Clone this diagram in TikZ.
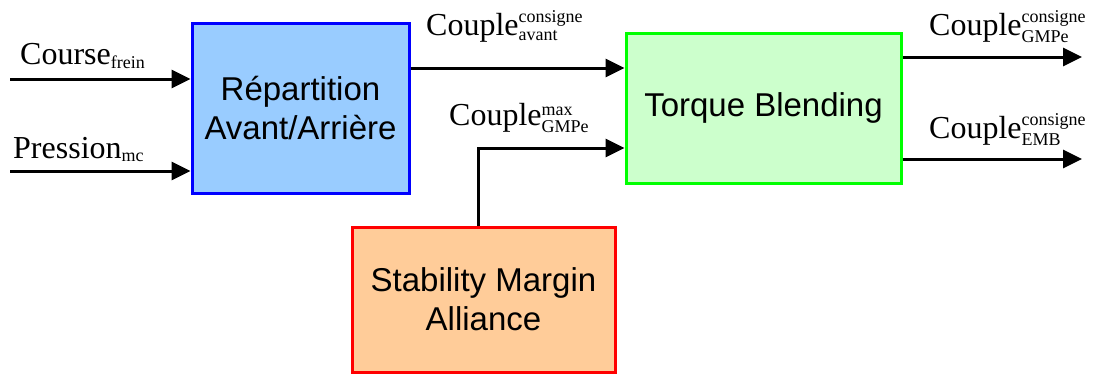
\documentclass[tikz,border=0pt]{standalone}
\usepackage{amsmath}
\usepackage{fontspec}
\setmainfont{Liberation Serif}
\setsansfont{Liberation Sans}
\usepackage{tikz}
\usetikzlibrary{arrows.meta, positioning}
\DeclareMathSizes{32}{32}{18}{14}
\definecolor{RepFill}{RGB}{153, 204, 255}
\definecolor{RepEdge}{RGB}{0, 0, 255}
\definecolor{BlendFill}{RGB}{204, 255, 204}
\definecolor{BlendEdge}{RGB}{0, 255, 0}
\definecolor{StabFill}{RGB}{255, 204, 153}
\definecolor{StabEdge}{RGB}{255, 0, 0}
\newcommand{\idx}[1]{\text{\rmfamily #1}}

\begin{document}
\begin{tikzpicture}[x=1pt, y=-1pt,
    blockbox/.style={draw, line width=3pt, align=center,
      font=\sffamily\fontsize{33}{39}\selectfont},
    sig/.style={-{Triangle[length=19pt, width=18pt]}, line width=3pt},
    sigtext/.style={anchor=base west, inner sep=0pt,
      font=\rmfamily\fontsize{32}{38}\selectfont}]
  \useasboundingbox (0,0) rectangle (1093,376);

  % blocks
  \node[blockbox, draw=RepEdge, fill=RepFill, minimum width=217pt, minimum height=170pt]
    (rep) at (300.5,108) {Répartition\\Avant/Arrière};
  \node[blockbox, draw=BlendEdge, fill=BlendFill, minimum width=275pt, minimum height=150pt]
    (blend) at (763.5,108) {Torque Blending};
  \node[blockbox, draw=StabEdge, fill=StabFill, minimum width=263pt, minimum height=145pt]
    (stab) at (483.5,299.5) {Stability Margin\\Alliance};

  % free ends
  \coordinate (course) at (10,79);
  \coordinate (pression) at (10,171);
  \coordinate (avant) at (520,68);
  \coordinate (gmpmax) at (478,148);
  \coordinate (gmpout) at (1082,57);
  \coordinate (embout) at (1082,159);

  % signals
  \draw[sig] (course) -- (course -| rep.west);
  \draw[sig] (pression) -- (pression -| rep.west);
  \draw[sig] (rep.east |- avant) -- (blend.west |- avant);
  \draw[sig] (stab.north -| gmpmax) -- (gmpmax) -- (blend.west |- gmpmax);
  \draw[sig] (blend.east |- gmpout) -- (gmpout);
  \draw[sig] (blend.east |- embout) -- (embout);

  % labels
  \node[sigtext] (lcourse) at (20,64) {Course$_{\idx{frein}}$};
  \node[sigtext] (lpression) at (13,158) {Pression$_{\idx{mc}}$};
  \node[sigtext] (lavant) at (426,35) {Couple$^{\idx{consigne}}_{\idx{avant}}$};
  \node[sigtext] (lmax) at (449,125) {Couple$^{\idx{max}}_{\idx{GMPe}}$};
  \node[sigtext] (lgmp) at (929,35) {Couple$^{\idx{consigne}}_{\idx{GMPe}}$};
  \node[sigtext] (lemb) at (929,138) {Couple$^{\idx{consigne}}_{\idx{EMB}}$};
\end{tikzpicture}
\end{document}
